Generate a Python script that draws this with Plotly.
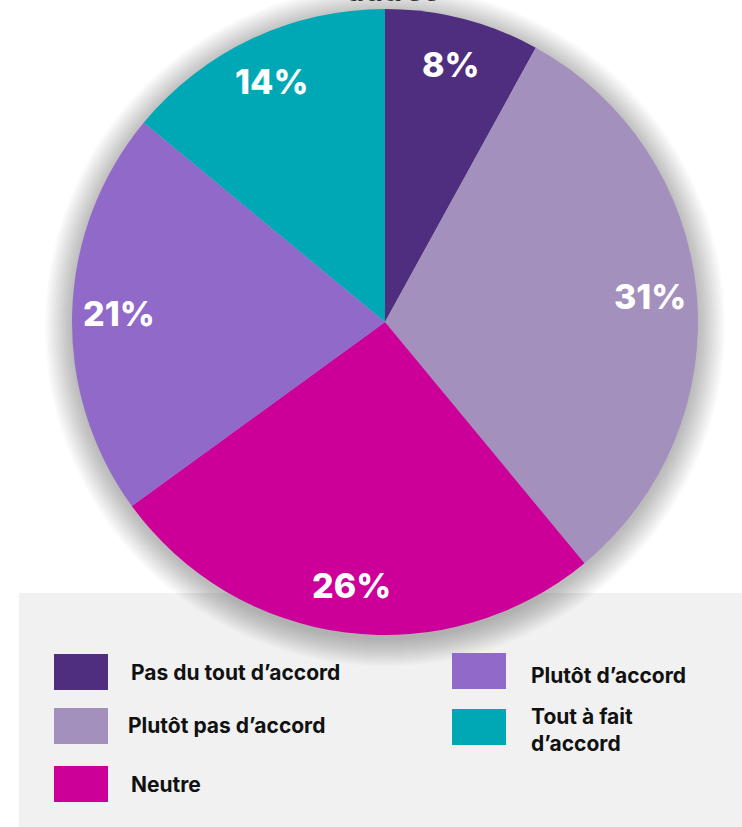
import math
import plotly.graph_objects as go

# Survey answers, clockwise from 12 o'clock
categories = ["Pas du tout d’accord", "Plutôt pas d’accord", "Neutre",
              "Plutôt d’accord", "Tout à fait d’accord"]
values = [8, 31, 26, 21, 14]
colors = ["#4f2d7f", "#a390bd", "#cc0099", "#9169c9", "#00a7b5"]
legend_labels = ["Pas du tout d’accord", "Plutôt pas d’accord", "Neutre",
                 "Plutôt d’accord", "Tout à fait<br>d’accord"]

W, H = 742, 827
CX, CY, R = 385, 322, 313          # pie centre and radius in pixels
FONT = "Inter, Lato, sans-serif"


def px(x):
    return x / W


def py(y):
    return 1 - y / H


fig = go.Figure()
fig.add_trace(go.Pie(
    labels=categories,
    values=values,
    sort=False,
    direction="clockwise",
    rotation=0,
    marker=dict(colors=colors, line=dict(width=0)),
    textinfo="none",
    hoverinfo="label+percent",
    showlegend=False,
    domain=dict(x=[px(CX - R), px(CX + R)], y=[py(CY + R), py(CY - R)]),
))

shapes = []
# grey legend panel
shapes.append(dict(type="rect", xref="paper", yref="paper", layer="below",
                   x0=px(19), x1=px(W), y0=py(H), y1=py(593),
                   fillcolor="#f1f1f1", line=dict(width=0)))
# soft drop shadow around the pie, slightly heavier below
for k in range(14):
    rr = R + 27 - 2 * k
    oy = 4
    shapes.append(dict(type="circle", xref="paper", yref="paper", layer="below",
                       x0=px(CX - rr), x1=px(CX + rr),
                       y0=py(CY + oy + rr), y1=py(CY + oy - rr),
                       fillcolor="rgba(0,0,0,0.018)", line=dict(width=0)))

annotations = []
# percentage labels placed along each slice's mid-angle
total = sum(values)
cum = 0
for v in values:
    mid = (cum + v / 2) / total * 2 * math.pi
    cum += v
    lx = CX + 0.85 * R * math.sin(mid)
    ly = CY - 0.85 * R * math.cos(mid)
    annotations.append(dict(x=px(lx), y=py(ly), xref="paper", yref="paper",
                            text=f"{v}%", showarrow=False,
                            xanchor="center", yanchor="middle",
                            font=dict(family=FONT, size=34, color="white", weight=800)))

# legend: two columns of swatches with labels
legend_slots = [
    (54, 654, 129, 672),
    (54, 708, 126, 725),
    (54, 766, 129, 784),
    (452, 653, 529, 675),
    (452, 709, 529, 730),
]
for (sx, sy, tx, ty), col, lab in zip(legend_slots, colors, legend_labels):
    shapes.append(dict(type="rect", xref="paper", yref="paper",
                       x0=px(sx), x1=px(sx + 54), y0=py(sy + 36), y1=py(sy),
                       fillcolor=col, line=dict(width=0)))
    annotations.append(dict(x=px(tx), y=py(ty), xref="paper", yref="paper",
                            text=lab, showarrow=False, align="left",
                            xanchor="left", yanchor="middle",
                            font=dict(family=FONT, size=21, color="#111111", weight=700)))

# heading, mostly above the visible area
annotations.append(dict(x=px(393), y=py(10), xref="paper", yref="paper",
                        text="autres", showarrow=False,
                        xanchor="center", yanchor="bottom",
                        font=dict(family=FONT, size=30, color="#333333", weight=700)))

fig.update_layout(
    width=W, height=H,
    margin=dict(l=0, r=0, t=0, b=0),
    paper_bgcolor="white",
    plot_bgcolor="white",
    shapes=shapes,
    annotations=annotations,
)

fig.write_html("out.html")
